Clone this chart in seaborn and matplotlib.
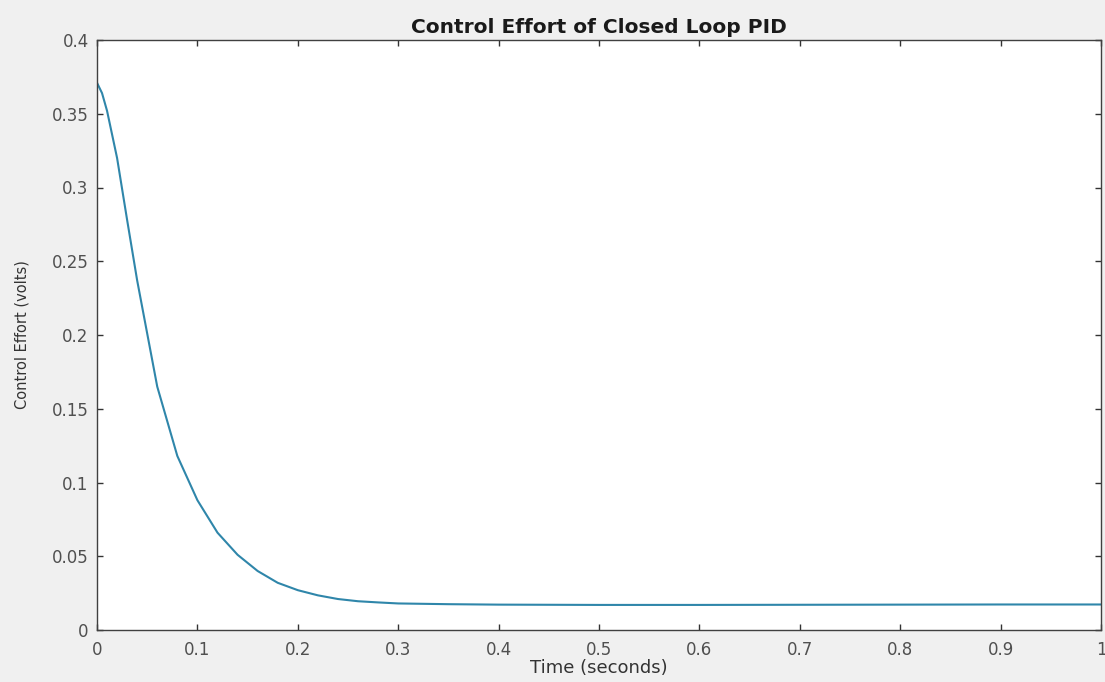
import numpy as np
import pandas as pd
import matplotlib
matplotlib.use('Agg')
import matplotlib.pyplot as plt
import seaborn as sns

# values
time_s = [0.0, 0.005, 0.01, 0.02, 0.03, 0.04, 0.05, 0.06, 0.08, 0.10, 0.12,
          0.14, 0.16, 0.18, 0.20, 0.22, 0.24, 0.26, 0.28, 0.30, 0.35, 0.40,
          0.50, 0.60, 0.70, 0.80, 0.90, 1.00]
effort_v = [0.371, 0.364, 0.352, 0.320, 0.278, 0.237, 0.201, 0.165, 0.118,
            0.088, 0.066, 0.051, 0.040, 0.032, 0.027, 0.0235, 0.021, 0.0195,
            0.0187, 0.0180, 0.0175, 0.0172, 0.0170, 0.0170, 0.0171, 0.0172,
            0.0173, 0.0173]
x_ticks = [0, 0.1, 0.2, 0.3, 0.4, 0.5, 0.6, 0.7, 0.8, 0.9, 1]
x_labels = ['0', '0.1', '0.2', '0.3', '0.4', '0.5', '0.6', '0.7', '0.8', '0.9', '1']
y_ticks = [0, 0.05, 0.1, 0.15, 0.2, 0.25, 0.3, 0.35, 0.4]
y_labels = ['0', '0.05', '0.1', '0.15', '0.2', '0.25', '0.3', '0.35', '0.4']

df = pd.DataFrame({'t': time_s, 'u': effort_v})

sns.set_theme(style='ticks')
plt.rcParams['font.family'] = ['DejaVu Sans']
plt.rcParams['figure.facecolor'] = '#f0f0f0'

fig = plt.figure(figsize=(11.05, 6.82), dpi=100)
ax = fig.add_axes([97 / 1105, 1 - 630 / 682, 1004 / 1105, 590 / 682])
ax.set_facecolor('white')

sns.lineplot(data=df, x='t', y='u', ax=ax, color='#2f86aa', linewidth=1.5)

ax.set_xlim(0, 1)
ax.set_ylim(0, 0.4)
ax.set_xticks(x_ticks)
ax.set_xticklabels(x_labels)
ax.set_yticks(y_ticks)
ax.set_yticklabels(y_labels)
ax.tick_params(direction='in', length=4, width=1, color='#333333',
               top=True, right=True, labelsize=12, labelcolor='#505050')
ax.tick_params(axis='x', pad=8)
ax.tick_params(axis='y', pad=6)
for s in ax.spines.values():
    s.set_visible(True)
    s.set_color('#404040')
    s.set_linewidth(1)

ax.set_title('Control Effort of Closed Loop PID', fontsize=14.5, fontweight='bold',
             color='#1a1a1a', pad=5)
ax.set_xlabel('Time (seconds)', fontsize=13, color='#333333', labelpad=0)
ax.set_ylabel('Control Effort (volts)', fontsize=10.5, color='#333333', labelpad=16)

fig.savefig('out.png', dpi=100, facecolor=fig.get_facecolor())
